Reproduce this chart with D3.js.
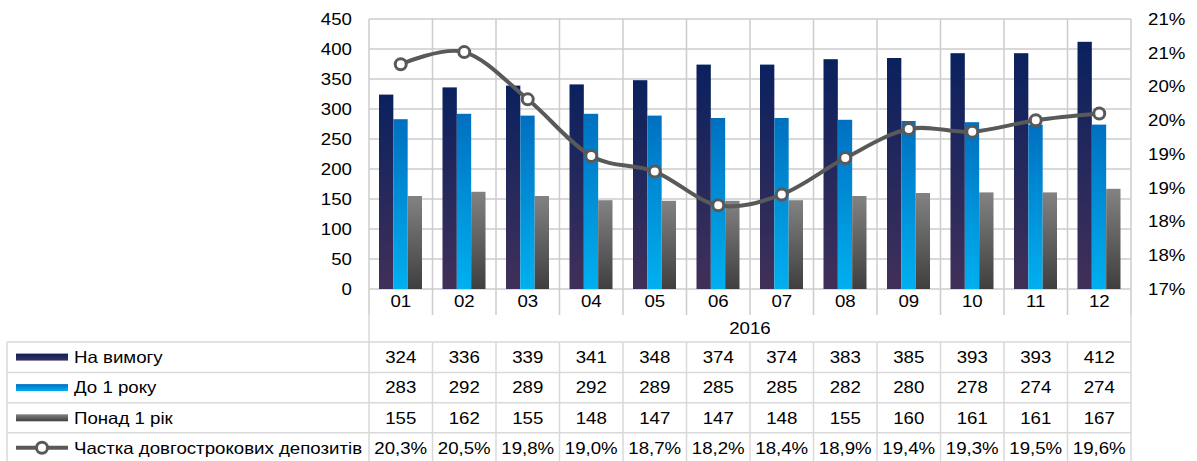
<!DOCTYPE html>
<html><head><meta charset="utf-8">
<script src="https://cdn.jsdelivr.net/npm/d3@7"></script>
<style>body{margin:0;background:#fff}svg{display:block}text{font-family:"Liberation Sans",Arial,sans-serif;fill:#000}</style>
</head><body><svg id="c" width="1197" height="461"></svg>
<script>
const categories = ["01","02","03","04","05","06","07","08","09","10","11","12"];
const yearLabel = "2016";
const onDemand = [324,336,339,341,348,374,374,383,385,393,393,412];
const upTo1Year = [283,292,289,292,289,285,285,282,280,278,274,274];
const over1Year = [155,162,155,148,147,147,148,155,160,161,161,167];
const longShare = [20.33,20.51,19.81,18.97,18.74,18.24,18.40,18.94,19.37,19.33,19.50,19.60];
const seriesNames = ["На вимогу","До 1 року","Понад 1 рік","Частка довгострокових депозитів"];
const leftTicks = [0,50,100,150,200,250,300,350,400,450];
const rightTicks = [17,17.5,18,18.5,19,19.5,20,20.5,21];

const svg = d3.select("#c");
const L = 369, R = 1131, T = 19, B = 289;
const FS = 16.3, SX = 1.145;
const x = d3.scaleBand().domain(categories).range([L, R]).paddingInner(0).paddingOuter(0);
const y = d3.scaleLinear().domain([0,450]).range([B, T]);
const y2 = d3.scaleLinear().domain([17,21]).range([B, T]);
const inner = d3.scaleBand().domain([0,1,2]).range([10, x.bandwidth()-10.5]).padding(0);

function txt(g, px, py, str, anchor){
  return g.append("text").attr("transform", `translate(${px},${py}) scale(${SX},1)`)
    .attr("dy","0.36em").attr("text-anchor", anchor || "middle").attr("font-size", FS).text(str);
}

const defs = svg.append("defs");
function grad(id, top, bot){
  const g = defs.append("linearGradient").attr("id", id).attr("x1",0).attr("y1",0).attr("x2",0).attr("y2",1);
  g.append("stop").attr("offset","0%").attr("stop-color",top);
  g.append("stop").attr("offset","100%").attr("stop-color",bot);
}
grad("gNavy","#0a215f","#413059");
grad("gBlue","#0070c0","#00b0f0");
grad("gGray","#828282","#3f3f3f");
const fills = ["url(#gNavy)","url(#gBlue)","url(#gGray)"];

const gridC = "#cccccc", tableC = "#d9d9d9";
svg.append("g").selectAll("line").data(leftTicks).join("line")
  .attr("x1", L).attr("x2", R).attr("y1", d=>y(d)).attr("y2", d=>y(d))
  .attr("stroke", gridC).attr("stroke-width", 1.5);
const bounds = categories.map(c=>x(c)).concat([R]);
svg.append("g").selectAll("line").data(bounds).join("line")
  .attr("x1", d=>d).attr("x2", d=>d).attr("y1", T).attr("y2", 315)
  .attr("stroke", gridC).attr("stroke-width", 1.5);

const series = [onDemand, upTo1Year, over1Year];
series.forEach((vals, si) => {
  svg.append("g").selectAll("rect").data(vals).join("rect")
    .attr("x", (d,i)=>x(categories[i]) + inner(si))
    .attr("width", inner.bandwidth())
    .attr("y", d=>y(d)).attr("height", d=>B - y(d))
    .attr("fill", fills[si]);
});

const cx = i => x(categories[i]) + x.bandwidth()/2;
const lineGen = d3.line().x((d,i)=>cx(i)).y(d=>y2(d)).curve(d3.curveCardinal.tension(0));
svg.append("path").datum(longShare).attr("d", lineGen).attr("fill","none").attr("stroke","#595959").attr("stroke-width",4);
svg.append("g").selectAll("circle").data(longShare).join("circle")
  .attr("cx",(d,i)=>cx(i)).attr("cy", d=>y2(d)).attr("r",5.5)
  .attr("fill","#fff").attr("stroke","#595959").attr("stroke-width",3);

const axG = svg.append("g");
leftTicks.forEach(d => txt(axG, 352, y(d), d, "end"));
rightTicks.forEach(d => txt(axG, 1148, y2(d), Math.round(d)+"%", "start"));
categories.forEach(d => txt(axG, x(d)+x.bandwidth()/2, 301, d, "middle"));

svg.append("line").attr("x1",L).attr("x2",L).attr("y1",315).attr("y2",342).attr("stroke",tableC).attr("stroke-width",1.5);
svg.append("line").attr("x1",R).attr("x2",R).attr("y1",315).attr("y2",342).attr("stroke",tableC).attr("stroke-width",1.5);
txt(axG, (L+R)/2, 328, yearLabel, "middle");

const rowTops = [342, 372.5, 402.7, 432.7];
const rowH = 30.2;
const tbl = svg.append("g");
rowTops.concat([463]).forEach(t => tbl.append("line").attr("x1",7).attr("x2",R).attr("y1",t).attr("y2",t).attr("stroke",tableC).attr("stroke-width",1.5));
[7].concat(bounds).forEach(b => tbl.append("line").attr("x1",b).attr("x2",b).attr("y1",342).attr("y2",461).attr("stroke",tableC).attr("stroke-width",1.5));

const rows = [onDemand, upTo1Year, over1Year, longShare.map(v=>v.toFixed(1).replace(".",",")+"%")];
rows.forEach((vals, ri) => {
  const cy = rowTops[ri] + rowH/2;
  vals.forEach((d,i) => txt(tbl, cx(i), cy, d, "middle"));
  txt(tbl, 74, cy, seriesNames[ri], "start");
  if (ri < 3) {
    tbl.append("rect").attr("x",16).attr("y",cy-3.5).attr("width",52).attr("height",7).attr("fill",fills[ri]);
  } else {
    tbl.append("line").attr("x1",16).attr("x2",68).attr("y1",cy).attr("y2",cy).attr("stroke","#595959").attr("stroke-width",4);
    tbl.append("circle").attr("cx",42).attr("cy",cy).attr("r",5.5).attr("fill","#fff").attr("stroke","#595959").attr("stroke-width",3);
  }
});
</script></body></html>
